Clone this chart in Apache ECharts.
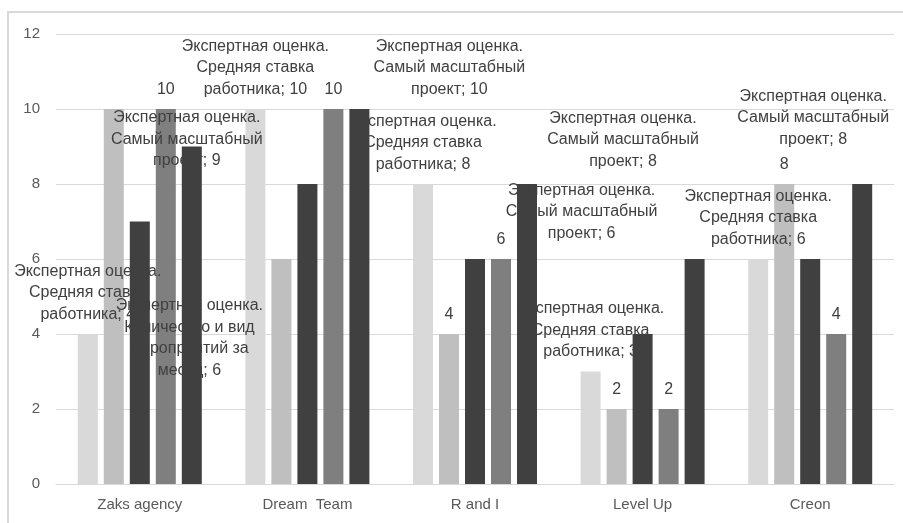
<!DOCTYPE html>
<html><head><meta charset="utf-8">
<script src="https://cdn.jsdelivr.net/npm/echarts@6/dist/echarts.min.js"></script>
<style>html,body{margin:0;padding:0;background:#fff}#c{width:903px;height:523px}</style>
</head><body><div id="c"></div>
<script>
const categories = ['Zaks agency', 'Dream  Team', 'R and I', 'Level Up', 'Creon'];
const seriesNames = [
  'Экспертная оценка. Средняя ставка работника',
  'Экспертная оценка. Количество и вид мероприятий за месяц',
  'Экспертная оценка. Показатель 3',
  'Экспертная оценка. Показатель 4',
  'Экспертная оценка. Самый масштабный проект'
];
const labelNames = [
  'Экспертная оценка.\nСредняя ставка\nработника',
  'Экспертная оценка.\nКоличество и вид\nмероприятий за\nмесяц',
  '',
  '',
  'Экспертная оценка.\nСамый масштабный\nпроект'
];
const s1 = [4, 10, 8, 3, 6];
const s2 = [10, 6, 4, 2, 8];
const s3 = [7, 8, 6, 4, 6];
const s4 = [10, 10, 6, 2, 4];
const s5 = [9, 10, 8, 6, 8];
const yMin = 0, yMax = 12, yStep = 2;

// which label each bar shows
const labelModes = [
  ['name', 'name', 'name', 'name', 'name'],
  ['none', 'name', 'value', 'value', 'value'],
  ['none', 'none', 'none', 'none', 'none'],
  ['value', 'value', 'value', 'value', 'value'],
  ['name', 'name', 'name', 'name', 'name']
];
// hand-moved labels (series-category): pixel offset
const labelOffsets = {
  '4-0': [-5, 34],
  '1-1': [-92, 131],
  '4-1': [90, 0],
  '4-2': [96, -3],
  '4-3': [-113, -6],
  '4-4': [-49, -25]
};
const colors = ['#d9d9d9', '#bfbfbf', '#404040', '#7f7f7f', '#404040'];
const allValues = [s1, s2, s3, s4, s5];

const series = allValues.map((vals, si) => ({
  name: seriesNames[si],
  type: 'bar',
  barWidth: 20,
  barGap: '30%',
  itemStyle: { color: colors[si] },
  label: {
    show: false, position: 'top', distance: 9,
    fontFamily: 'Liberation Sans', fontSize: 16, lineHeight: 21.5,
    color: '#404040', align: 'center'
  },
  data: vals.map((v, ci) => {
    const mode = labelModes[si][ci];
    if (mode === 'none') return { value: v, label: { show: false } };
    const txt = mode === 'name' ? labelNames[si] + '; ' + v : String(v);
    return {
      value: v,
      label: { show: true, formatter: txt, offset: labelOffsets[si + '-' + ci] || [0, 0] }
    };
  })
}));

const chart = echarts.init(document.getElementById('c'));
chart.setOption({
  animation: false,
  backgroundColor: '#ffffff',
  grid: { left: 56, right: 9, top: 34, bottom: 39, containLabel: false },
  xAxis: {
    type: 'category', data: categories,
    axisLine: { lineStyle: { color: '#d9d9d9', width: 1 } },
    axisTick: { show: false },
    axisLabel: { color: '#595959', fontSize: 15, fontFamily: 'Liberation Sans', margin: 13 }
  },
  yAxis: {
    type: 'value', min: yMin, max: yMax, interval: yStep,
    axisLine: { show: false }, axisTick: { show: false },
    splitLine: { lineStyle: { color: '#d9d9d9', width: 1 } },
    axisLabel: { color: '#595959', fontSize: 15, fontFamily: 'Liberation Sans', margin: 16 }
  },
  graphic: [{
    type: 'rect', silent: true, z: -10,
    shape: { x: 8, y: 12, width: 1000, height: 1000 },
    style: { fill: 'none', stroke: '#d9d9d9', lineWidth: 2 }
  }],
  series: series
});
</script></body></html>
